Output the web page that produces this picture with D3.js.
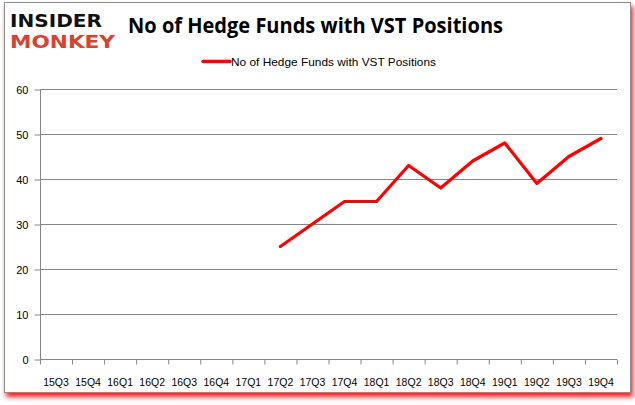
<!DOCTYPE html>
<html><head><meta charset="utf-8">
<script src="https://cdn.jsdelivr.net/npm/d3@7"></script>
<style>body{margin:0;background:#fff}svg{display:block}</style>
</head><body>
<svg id="c" width="635" height="405"></svg>
<script>
const categories = ["15Q3","15Q4","16Q1","16Q2","16Q3","16Q4","17Q1","17Q2","17Q3","17Q4","18Q1","18Q2","18Q3","18Q4","19Q1","19Q2","19Q3","19Q4"];
const values = [null,null,null,null,null,null,null,25,30,35,35,43,38,44,48,39,45,49];
const yTicks = [0,10,20,30,40,50,60];
const seriesName = "No of Hedge Funds with VST Positions";
const title = "No of Hedge Funds with VST Positions";

const svg = d3.select("#c");
const defs = svg.append("defs");
const f = defs.append("filter").attr("id","sh").attr("x","-5%").attr("y","-5%").attr("width","110%").attr("height","115%");
f.append("feDropShadow").attr("dx",2).attr("dy",4).attr("stdDeviation",2.5).attr("flood-color","#ff0000").attr("flood-opacity",0.9);

svg.append("rect").attr("x",4.5).attr("y",2.5).attr("width",626).attr("height",390)
  .attr("fill","#fff").attr("stroke","#8c8c8c").attr("stroke-width",1).attr("filter","url(#sh)");

const m = {l:40, r:617, t:89, b:359};
const x = d3.scaleBand().domain(categories).range([m.l, m.r]);
const y = d3.scaleLinear().domain([0,60]).range([m.b, m.t]);

// gridlines
svg.append("g").selectAll("line").data(yTicks.filter(d=>d>0)).join("line")
  .attr("x1",m.l).attr("x2",m.r).attr("y1",d=>y(d)+0.5).attr("y2",d=>y(d)+0.5)
  .attr("stroke","#868686").attr("stroke-width",1);

// y axis
const ya = svg.append("g").attr("transform",`translate(${m.l+0.5},0.5)`)
  .call(d3.axisLeft(y).tickValues(yTicks).tickSize(6).tickPadding(6));
ya.select(".domain").attr("stroke","#868686").attr("d",`M0,${m.t}V${m.b}`);
ya.selectAll(".tick line").attr("stroke","#868686");
ya.selectAll(".tick text").attr("fill","#000").style("font-family","'Liberation Sans',Arial,sans-serif").style("font-size","11px");

// x axis
const xa = svg.append("g").attr("transform",`translate(0,${m.b+0.5})`);
xa.append("line").attr("x1",m.l).attr("x2",m.r).attr("stroke","#868686");
const bounds = categories.map(c=>x(c)).concat([m.r]);
xa.selectAll("line.t").data(bounds).join("line").attr("class","t")
  .attr("x1",d=>d+0.5).attr("x2",d=>d+0.5).attr("y1",0).attr("y2",5).attr("stroke","#868686");
xa.selectAll("text").data(categories).join("text")
  .attr("x",d=>x(d)+x.bandwidth()/2).attr("y",26).attr("text-anchor","middle")
  .style("font-family","'Liberation Sans',Arial,sans-serif").style("font-size","10.5px").attr("fill","#000")
  .text(d=>d);

// line
const line = d3.line().defined(d=>d.v!=null).x(d=>x(d.c)+x.bandwidth()/2).y(d=>y(d.v));
svg.append("path").datum(categories.map((c,i)=>({c,v:values[i]})))
  .attr("d",line).attr("fill","none").attr("stroke","#ff0000").attr("stroke-width",3.2)
  .attr("stroke-linejoin","round").attr("stroke-linecap","round");

// title
svg.append("text").attr("x",128).attr("y",33).text(title)
  .style("font-family","'Open Sans','Liberation Sans',sans-serif").style("font-weight","bold").style("font-size","22px")
  .attr("textLength",375).attr("lengthAdjust","spacingAndGlyphs").attr("fill","#000");

// legend
svg.append("line").attr("x1",203).attr("x2",230).attr("y1",61.5).attr("y2",61.5).attr("stroke","#ff0000").attr("stroke-width",3.5).attr("stroke-linecap","round");
svg.append("text").attr("x",231).attr("y",65.5).text(seriesName)
  .style("font-family","'Liberation Sans',Arial,sans-serif").style("font-size","11px")
  .attr("textLength",205).attr("lengthAdjust","spacingAndGlyphs").attr("fill","#000");

// logo
svg.append("text").attr("x",10).attr("y",27).text("INSIDER")
  .style("font-family","'DejaVu Sans',sans-serif").style("font-weight","bold").style("font-size","17.5px")
  .attr("textLength",92).attr("lengthAdjust","spacingAndGlyphs").attr("fill","#111");
svg.append("text").attr("x",10).attr("y",48).text("MONKEY")
  .style("font-family","'DejaVu Sans',sans-serif").style("font-weight","bold").style("font-size","17.5px")
  .attr("textLength",105).attr("lengthAdjust","spacingAndGlyphs").attr("fill","#d8432e");
</script>
</body></html>
